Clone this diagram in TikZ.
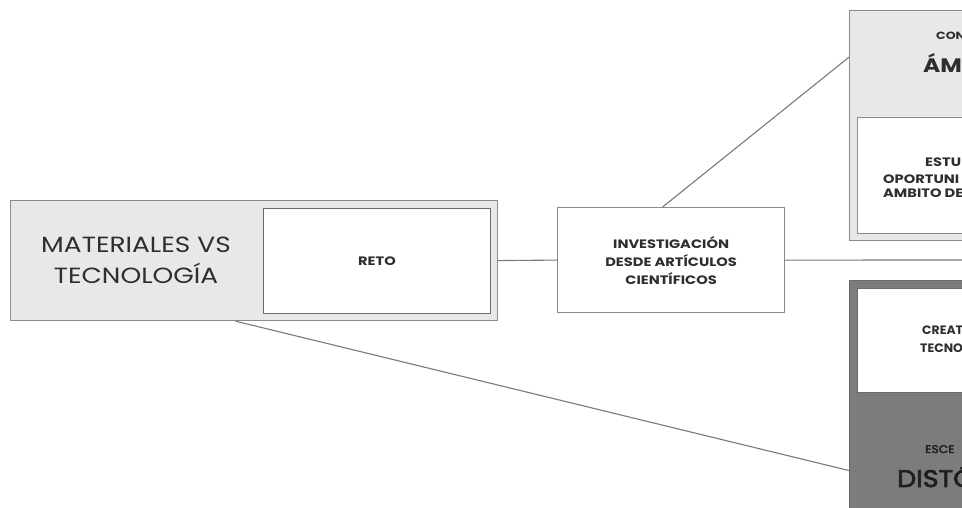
\documentclass[tikz,border=0pt]{standalone}
\usepackage{fontspec}
\setmainfont{Poppins}[FakeStretch=1.2]
\newfontfamily\narrowface{Poppins}[FakeStretch=1.02]
\newfontfamily\mediumface{Poppins}[FakeStretch=1.12, FakeBold=3]
\usetikzlibrary{calc}
\definecolor{boxlight}{HTML}{E8E8E6}
\definecolor{boxdark}{HTML}{7C7C7C}
\definecolor{edge}{HTML}{8A8A8A}
\definecolor{edgedark}{HTML}{6A6A6A}
\definecolor{ink}{HTML}{2E2E2E}
\definecolor{inkdeep}{HTML}{1E1E1E}
\definecolor{wire}{HTML}{7A7A7A}
\tikzset{
  panel/.style={draw=edge, line width=1.2pt, rectangle, inner sep=0pt, anchor=north west},
  card/.style={draw=edgedark, line width=1pt, fill=white, rectangle, inner sep=0pt, anchor=north west},
  link/.style={draw=wire, line width=1.1pt},
  bigtxt/.style={text=ink, font=\fontsize{22}{31}\selectfont, align=center},
  smalltxt/.style={text=ink, font=\bfseries\fontsize{12.2}{18}\selectfont, align=center},
  cut/.style={text=ink, inner sep=0pt, anchor=base west},
}
\begin{document}
\begin{tikzpicture}[x=1pt,y=1pt]
\useasboundingbox (0,0) rectangle (962,508);
\fill[white] (0,0) rectangle (962,508);
\clip (0,0) rectangle (962,508);

% left block: theme with its challenge
\node[panel, fill=boxlight, minimum width=487pt, minimum height=120pt] (mat) at (10,308) {};
\node[card, minimum width=227pt, minimum height=105pt] (reto) at (263,300) {};
\node[bigtxt] (mattxt) at (136,247.5) {MATERIALES VS\\TECNOLOGÍA};
\node[smalltxt] (retotxt) at (reto.center) {RETO};

% middle block: research source
\node[card, draw=edge, line width=1.2pt, minimum width=227pt, minimum height=105pt] (inv) at (557,301) {};
\node[smalltxt] (invtxt) at (inv.center) {INVESTIGACIÓN\\DESDE ARTÍCULOS\\CIENTÍFICOS};

% right blocks, running past the page edge
\node[panel, fill=boxlight, minimum width=260pt, minimum height=230pt] (amb) at (849,498) {};
\node[card, draw=edge, minimum width=250pt, minimum height=116pt] (ambin) at (857,391) {};
\node[panel, draw=edgedark, fill=boxdark, minimum width=260pt, minimum height=240pt] (dis) at (849,228) {};
\node[card, draw=edgedark, minimum width=250pt, minimum height=104pt] (disin) at (857,220) {};

% connectors
\coordinate (edgeR) at (962,248);
\draw[link] (mat.east) -- (inv.west);
\draw[link] (inv.east) -- (edgeR);
\draw[link] ([xshift=-8.5pt]inv.north) -- ($(amb.north west)!0.204!(amb.south west)$);
\draw[link] ([xshift=-18.5pt]mat.south) -- ($(dis.north west)!0.79!(dis.south west)$);

% labels of the right blocks
\node[cut, font=\bfseries\fontsize{10.5}{14}\selectfont] (t1) at (936,468) {CON};
\node[cut, font=\bfseries\fontsize{19.5}{26}\selectfont] (t2) at (923,435) {ÁM};
\node[cut, font=\bfseries\fontsize{12.2}{14}\selectfont] (t3) at (925,341) {ESTU};
\node[cut, font=\bfseries\fontsize{12.2}{14}\selectfont] (t4) at (883,324) {OPORTUNI};
\node[cut, font=\bfseries\fontsize{12.2}{14}\selectfont] (t5) at (883,310) {AMBITO DE};
\node[cut, font=\narrowface\bfseries\fontsize{12.2}{14}\selectfont] (t6) at (922,173) {CREAT};
\node[cut, font=\narrowface\bfseries\fontsize{12.2}{14}\selectfont] (t7) at (920,155) {TECNO};
\node[cut, text=inkdeep, font=\mediumface\fontsize{11}{14}\selectfont] (t8) at (925,55) {ESCE};
\node[cut, text=inkdeep, font=\mediumface\fontsize{24}{28}\selectfont] (t9) at (897,21) {DISTÓ};
\end{tikzpicture}
\end{document}
